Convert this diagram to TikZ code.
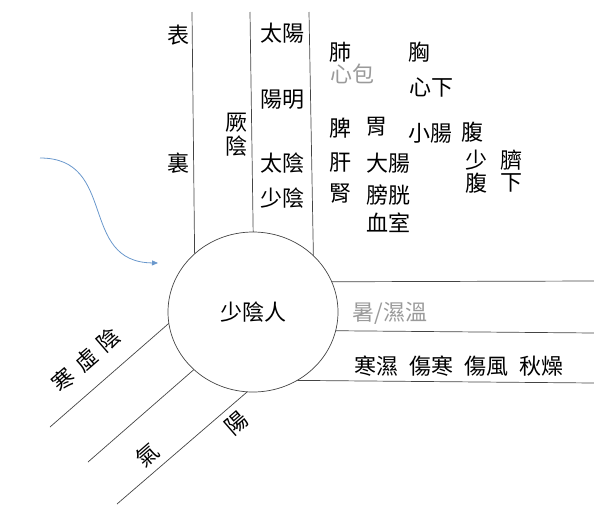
\documentclass[tikz,border=0pt]{standalone}
\usepackage{fontspec}
\setmainfont{Noto Sans CJK TC}
\usetikzlibrary{arrows.meta,shapes.geometric}
\definecolor{lgray}{HTML}{9A9A9A}
\definecolor{linec}{HTML}{444444}
\definecolor{arrowblue}{HTML}{6A98CC}
\tikzset{
  lbl/.style={inner sep=0pt, font=\fontsize{22}{24}\selectfont, text=black},
  glbl/.style={lbl, text=lgray},
  ln/.style={draw=linec, line width=0.7pt},
}
\begin{document}
\begin{tikzpicture}[x=1pt,y=-1pt]
\useasboundingbox (0,0) rectangle (594,504);
% coordinates of line ends
\coordinate (v1t) at (192,12);  \coordinate (v1b) at (195,290);
\coordinate (v2t) at (250,12);  \coordinate (v2b) at (254,290);
\coordinate (v3t) at (309,12);  \coordinate (v3b) at (314,290);
\coordinate (h1a) at (253,282); \coordinate (h1b) at (594,281);
\coordinate (h2a) at (253,330); \coordinate (h2b) at (594,333);
\coordinate (h3a) at (253,380); \coordinate (h3b) at (594,383);
\coordinate (d1a) at (230,270); \coordinate (d1b) at (50,427);
\coordinate (d2a) at (253,318); \coordinate (d2b) at (88,462);
\coordinate (d3a) at (290,355); \coordinate (d3b) at (117,504);
\draw[ln] (v1t) -- (v1b);
\draw[ln] (v2t) -- (v2b);
\draw[ln] (v3t) -- (v3b);
\draw[ln] (h1a) -- (h1b);
\draw[ln] (h2a) -- (h2b);
\draw[ln] (h3a) -- (h3b);
\draw[ln] (d1a) -- (d1b);
\draw[ln] (d2a) -- (d2b);
\draw[ln] (d3a) -- (d3b);
% central circle
\node[ellipse, draw=linec, line width=0.7pt, fill=white, minimum width=170pt, minimum height=160pt, inner sep=0pt, font=\fontsize{22}{24}\selectfont] (circ) at (253,312) {少陰人};
% left column
\node[lbl] (biao) at (178,35) {表};
\node[lbl] (li) at (178,163) {裏};
\node[lbl] (jue) at (236,123) {厥};
\node[lbl] (jyin) at (236,146) {陰};
% middle column
\node[lbl] (taiyang) at (282,33) {太陽};
\node[lbl] (yangming) at (282,100) {陽明};
\node[lbl] (taiyin) at (282,163) {太陰};
\node[lbl] (shaoyin) at (282,198) {少陰};
% organs
\node[lbl] (fei) at (340,52) {肺};
\node[glbl] (xinbao) at (352,74) {心包};
\node[lbl] (xiong) at (419,52) {胸};
\node[lbl] (xinxia) at (431,88) {心下};
\node[lbl] (pi) at (340,128) {脾};
\node[lbl] (wei) at (376,127) {胃};
\node[lbl] (xiaochang) at (430,133) {小腸};
\node[lbl] (fu) at (472,132) {腹};
\node[lbl] (gan) at (340,163) {肝};
\node[lbl] (dachang) at (388,163) {大腸};
\node[lbl] (shao) at (476,160) {少};
\node[lbl] (sfu) at (476,183) {腹};
\node[lbl] (qi2) at (511,160) {臍};
\node[lbl] (xia) at (511,183) {下};
\node[lbl] (shen) at (340,194) {腎};
\node[lbl] (pangguang) at (388,195) {膀胱};
\node[lbl] (xueshi) at (388,223) {血室};
% right texts
\node[glbl] (shu) at (390,313) {暑/濕溫};
\node[lbl] (hanshi) at (459,366) {寒濕\hspace{11pt}傷寒\hspace{11pt}傷風\hspace{11pt}秋燥};
% rotated texts
\node[lbl, rotate=41] (hanxuyin) at (86,360) {寒\hspace{8pt}虛\hspace{8pt}陰};
\node[lbl, rotate=41] (qi) at (147,455) {氣};
\node[lbl, rotate=41] (yang) at (237,423) {陽};
% blue arrow
\coordinate (arrS) at (40,158);
\coordinate (arrE) at (158,263);
\draw[arrowblue, line width=0.8pt, -{Triangle[length=6pt,width=5pt]}] (arrS) .. controls (118,158) and (78,262) .. (arrE);
\end{tikzpicture}
\end{document}
